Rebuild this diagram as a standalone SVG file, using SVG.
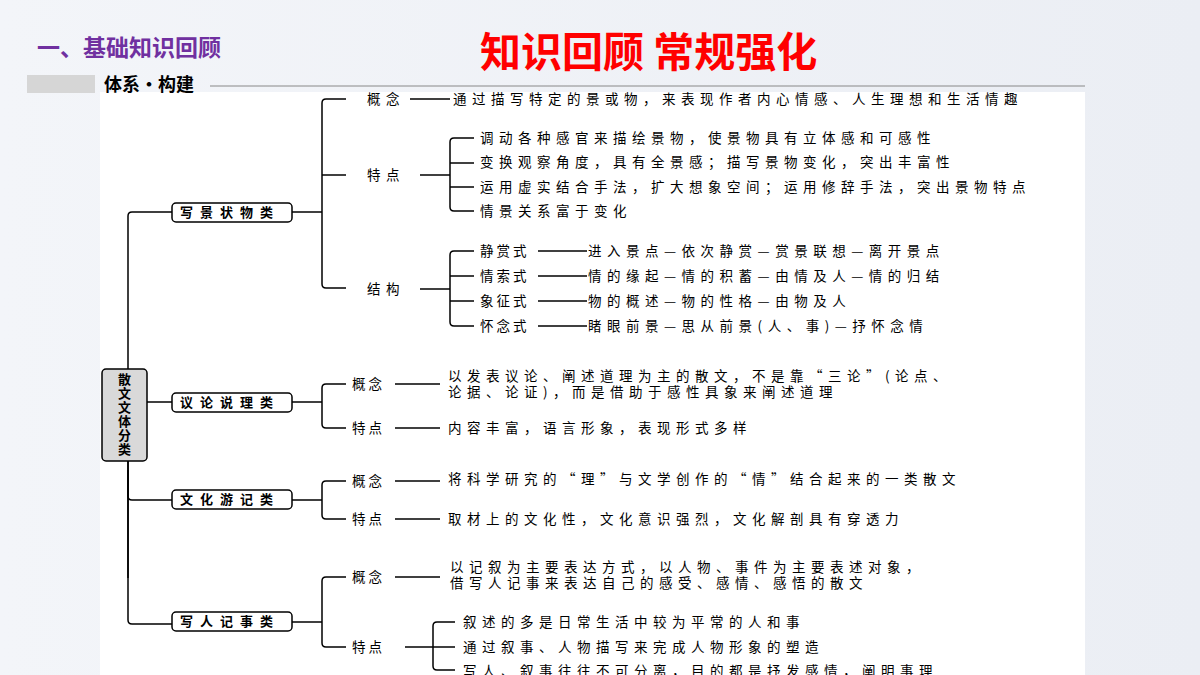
<svg xmlns="http://www.w3.org/2000/svg" width="1200" height="675" viewBox="0 0 1200 675">
<defs>
<linearGradient id="bg" x1="0" y1="0" x2="1" y2="0"><stop offset="0" stop-color="#f3f5f9"/><stop offset="1" stop-color="#ebeef4"/></linearGradient>
</defs>
<style>
text{font-family:"Noto Sans CJK SC","Liberation Sans",sans-serif;fill:#000}
.t{font-size:13.5px;letter-spacing:5.5px}
.b{font-size:13px;font-weight:bold;letter-spacing:7px}
.r{font-size:13px;font-weight:bold}
.c line,.c path{stroke:#000;stroke-width:1.5;fill:none}
.box{fill:#fff;stroke:#000;stroke-width:1.5}
</style>
<rect width="1200" height="675" fill="url(#bg)"/>
<rect x="100" y="92" width="985" height="583" fill="#fff"/>
<text x="37" y="56" font-size="23" font-weight="bold" style="fill:#7030a0">一、基础知识回顾</text>
<text x="480" y="67" font-size="41" font-weight="bold" style="fill:#ff0000">知识回顾 常规强化</text>
<rect x="27" y="75" width="68" height="18" fill="#d6d6d6"/>
<text x="104" y="91" font-size="18" font-weight="bold">体系·构建</text>
<line x1="210" y1="86" x2="1085" y2="86" stroke="#888" stroke-width="1"/>
<g class="c" id="connectors">
<path d="M128,578 V216 Q128,212 132,212 H172"/>
<path d="M128,378 V620 Q128,624 132,624 H172"/>
<line x1="128" y1="402" x2="172" y2="402"/>
<path d="M128,470 V496 Q128,500 132,500 H172"/>
<path d="M292,212 H322"/>
<path d="M346,99 H326 Q322,99 322,103 V284 Q322,288 326,288 H346"/>
<line x1="322" y1="175" x2="346" y2="175"/>
<line x1="410" y1="99" x2="450" y2="99"/>
<line x1="420" y1="175" x2="450" y2="175"/>
<path d="M474,138 H454 Q450,138 450,142 V207 Q450,211 454,211 H474"/>
<line x1="450" y1="163" x2="474" y2="163"/><line x1="450" y1="187" x2="474" y2="187"/>
<line x1="420" y1="289" x2="450" y2="289"/>
<path d="M474,251 H454 Q450,251 450,255 V322 Q450,326 454,326 H474"/>
<line x1="450" y1="276" x2="474" y2="276"/><line x1="450" y1="301" x2="474" y2="301"/>
<line x1="538" y1="251" x2="587" y2="251"/><line x1="538" y1="276" x2="587" y2="276"/><line x1="538" y1="301" x2="587" y2="301"/><line x1="538" y1="326" x2="587" y2="326"/>
<line x1="292" y1="402" x2="322" y2="402"/>
<path d="M346,384 H326 Q322,384 322,388 V424 Q322,428 326,428 H346"/>
<line x1="395" y1="384" x2="440" y2="384"/><line x1="395" y1="428" x2="440" y2="428"/>
<line x1="292" y1="500" x2="322" y2="500"/>
<path d="M346,481 H326 Q322,481 322,485 V515 Q322,519 326,519 H346"/>
<line x1="395" y1="481" x2="440" y2="481"/><line x1="395" y1="519" x2="440" y2="519"/>
<line x1="292" y1="622" x2="322" y2="622"/>
<path d="M346,577 H326 Q322,577 322,581 V643 Q322,647 326,647 H346"/>
<line x1="395" y1="577" x2="440" y2="577"/>
<line x1="405" y1="647" x2="433" y2="647"/>
<path d="M455,622 H437 Q433,622 433,626 V666 Q433,670 437,670 H455"/>
<line x1="433" y1="647" x2="455" y2="647"/>
</g>
<g id="root"><rect class="box" x="102" y="369" width="45" height="92" rx="4" style="fill:#d9d9d9"/>
<text class="r" x="124.5" y="384" text-anchor="middle">散</text><text class="r" x="124.5" y="398" text-anchor="middle">文</text><text class="r" x="124.5" y="412" text-anchor="middle">文</text><text class="r" x="124.5" y="426" text-anchor="middle">体</text><text class="r" x="124.5" y="440" text-anchor="middle">分</text><text class="r" x="124.5" y="454" text-anchor="middle">类</text></g>
<g id="n1"><rect class="box" x="172" y="203" width="120" height="19" rx="4"/><text class="b" x="180" y="217">写景状物类</text></g>
<g id="n2"><rect class="box" x="172" y="393" width="120" height="19" rx="4"/><text class="b" x="180" y="407">议论说理类</text></g>
<g id="n3"><rect class="box" x="172" y="490" width="120" height="19" rx="4"/><text class="b" x="180" y="504">文化游记类</text></g>
<g id="n4"><rect class="box" x="172" y="612" width="120" height="19" rx="4"/><text class="b" x="180" y="626">写人记事类</text></g>
<g id="texts">
<text class="t" x="367" y="104">概念</text>
<text class="t" x="453" y="104">通过描写特定的景或物，来表现作者内心情感、人生理想和生活情趣</text>
<text class="t" x="367" y="180">特点</text>
<text class="t" x="480" y="143">调动各种感官来描绘景物，使景物具有立体感和可感性</text>
<text class="t" x="480" y="167">变换观察角度，具有全景感；描写景物变化，突出丰富性</text>
<text class="t" x="480" y="192">运用虚实结合手法，扩大想象空间；运用修辞手法，突出景物特点</text>
<text class="t" x="480" y="216">情景关系富于变化</text>
<text class="t" x="367" y="294">结构</text>
<text class="t" x="480" y="256" style="letter-spacing:3px">静赏式</text><text class="t" x="588" y="256">进入景点—依次静赏—赏景联想—离开景点</text>
<text class="t" x="480" y="281" style="letter-spacing:3px">情索式</text><text class="t" x="588" y="281">情的缘起—情的积蓄—由情及人—情的归结</text>
<text class="t" x="480" y="306" style="letter-spacing:3px">象征式</text><text class="t" x="588" y="306">物的概述—物的性格—由物及人</text>
<text class="t" x="480" y="331" style="letter-spacing:3px">怀念式</text><text class="t" x="588" y="331">睹眼前景—思从前景(人、事)—抒怀念情</text>
<text class="t" x="352" y="389" style="letter-spacing:3px">概念</text>
<text class="t" x="448" y="381">以发表议论、阐述道理为主的散文，不是靠“三论”(论点、</text>
<text class="t" x="448" y="397">论据、论证)，而是借助于感性具象来阐述道理</text>
<text class="t" x="352" y="433" style="letter-spacing:3px">特点</text>
<text class="t" x="448" y="433">内容丰富，语言形象，表现形式多样</text>
<text class="t" x="352" y="486" style="letter-spacing:3px">概念</text>
<text class="t" x="448" y="484">将科学研究的“理”与文学创作的“情”结合起来的一类散文</text>
<text class="t" x="352" y="524" style="letter-spacing:3px">特点</text>
<text class="t" x="448" y="524">取材上的文化性，文化意识强烈，文化解剖具有穿透力</text>
<text class="t" x="352" y="582" style="letter-spacing:3px">概念</text>
<text class="t" x="450" y="572">以记叙为主要表达方式，以人物、事件为主要表述对象，</text>
<text class="t" x="450" y="588">借写人记事来表达自己的感受、感情、感悟的散文</text>
<text class="t" x="352" y="652" style="letter-spacing:3px">特点</text>
<text class="t" x="463" y="627">叙述的多是日常生活中较为平常的人和事</text>
<text class="t" x="463" y="652">通过叙事、人物描写来完成人物形象的塑造</text>
<text class="t" x="463" y="676">写人、叙事往往不可分离，目的都是抒发感情，阐明事理</text>
</g>
</svg>
